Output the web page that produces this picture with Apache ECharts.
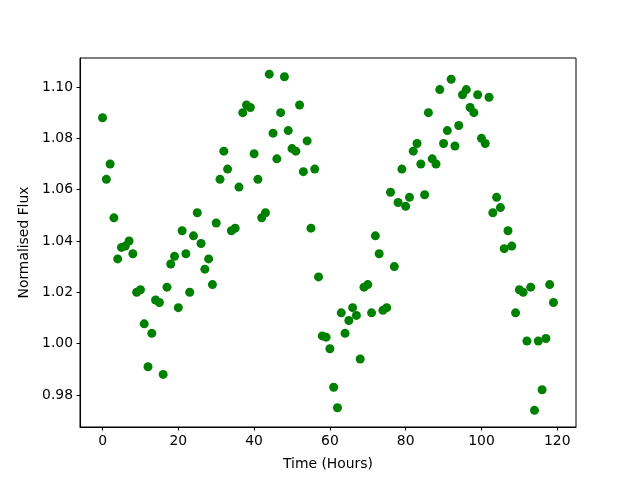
<!DOCTYPE html>
<html lang="en">
<head>
    <meta http-equiv="Content-Type" content="text/html; charset=UTF-8">
    <title>Normalised Flux</title>
    <script type="text/javascript" src="https://cdn.jsdelivr.net/npm/echarts@6/dist/echarts.min.js"></script>
    <style>
        html, body { margin: 0; padding: 0; background: #fff; }
        #chart { width: 640px; height: 480px; }
    </style>
</head>
<body>
<div id="chart"></div>
<script type="text/javascript">
    // 数据：每小时一个点
    var hours = [];
    for (var h = 0; h < 120; h++) { hours.push(h); }

    var flux = [
        1.088, 1.064, 1.070, 1.049, 1.033, 1.0375, 1.038, 1.040, 1.035, 1.020,
        1.021, 1.0077, 0.991, 1.004, 1.017, 1.016, 0.988, 1.022, 1.031, 1.034,
        1.014, 1.044, 1.035, 1.020, 1.042, 1.051, 1.039, 1.029, 1.033, 1.023,
        1.047, 1.064, 1.075, 1.068, 1.044, 1.045, 1.061, 1.090, 1.093, 1.092,
        1.074, 1.064, 1.049, 1.051, 1.105, 1.082, 1.072, 1.090, 1.104, 1.083,
        1.076, 1.075, 1.093, 1.067, 1.079, 1.045, 1.068, 1.026, 1.003, 1.0025,
        0.998, 0.983, 0.975, 1.012, 1.004, 1.009, 1.014, 1.011, 0.994, 1.022,
        1.023, 1.012, 1.042, 1.035, 1.013, 1.014, 1.059, 1.030, 1.055, 1.068,
        1.0535, 1.057, 1.075, 1.078, 1.070, 1.058, 1.090, 1.072, 1.070, 1.099,
        1.078, 1.083, 1.103, 1.077, 1.085, 1.097, 1.099, 1.092, 1.090, 1.097,
        1.080, 1.078, 1.096, 1.051, 1.057, 1.053, 1.037, 1.044, 1.038, 1.012,
        1.021, 1.020, 1.001, 1.022, 0.974, 1.001, 0.982, 1.002, 1.023, 1.016
    ];

    var xTicks = [0, 20, 40, 60, 80, 100, 120];
    var yTicks = [0.98, 1.00, 1.02, 1.04, 1.06, 1.08, 1.10];

    var chart = echarts.init(document.getElementById('chart'), null, { renderer: 'canvas' });

    var points = hours.map(function (x, i) { return [x, flux[i]]; });

    var font = 'DejaVu Sans';

    chart.setOption({
        animation: false,
        backgroundColor: '#ffffff',
        grid: {
            left: 80,
            right: 64,
            top: 58,
            bottom: 53,
            show: true,
            borderColor: '#000000',
            borderWidth: 1,
            backgroundColor: 'transparent'
        },
        xAxis: {
            type: 'value',
            min: -5.95,
            max: 124.95,
            name: 'Time (Hours)',
            nameLocation: 'middle',
            nameGap: 30,
            nameTextStyle: { color: '#000', fontFamily: font, fontSize: 13.9 },
            axisLine: { show: true, onZero: false, lineStyle: { color: '#000', width: 1 } },
            axisTick: { show: true, inside: false, length: 3.5, customValues: xTicks, lineStyle: { color: '#000' } },
            axisLabel: {
                customValues: xTicks,
                margin: 7,
                color: '#000',
                fontFamily: font,
                fontSize: 13.9
            },
            splitLine: { show: false }
        },
        yAxis: {
            type: 'value',
            min: 0.9675,
            max: 1.1113,
            name: 'Normalised Flux',
            nameLocation: 'middle',
            nameRotate: 90,
            nameGap: 44,
            nameTextStyle: { color: '#000', fontFamily: font, fontSize: 13.9 },
            axisLine: { show: true, onZero: false, lineStyle: { color: '#000', width: 1 } },
            axisTick: { show: true, inside: false, length: 3.5, customValues: yTicks, lineStyle: { color: '#000' } },
            axisLabel: {
                customValues: yTicks,
                margin: 7,
                color: '#000',
                fontFamily: font,
                fontSize: 13.9,
                formatter: function (v) { return v.toFixed(2); }
            },
            splitLine: { show: false }
        },
        series: [{
            type: 'scatter',
            data: points,
            symbol: 'circle',
            symbolSize: 9,
            itemStyle: { color: '#008000', opacity: 1 }
        }]
    });
</script>
</body>
</html>
